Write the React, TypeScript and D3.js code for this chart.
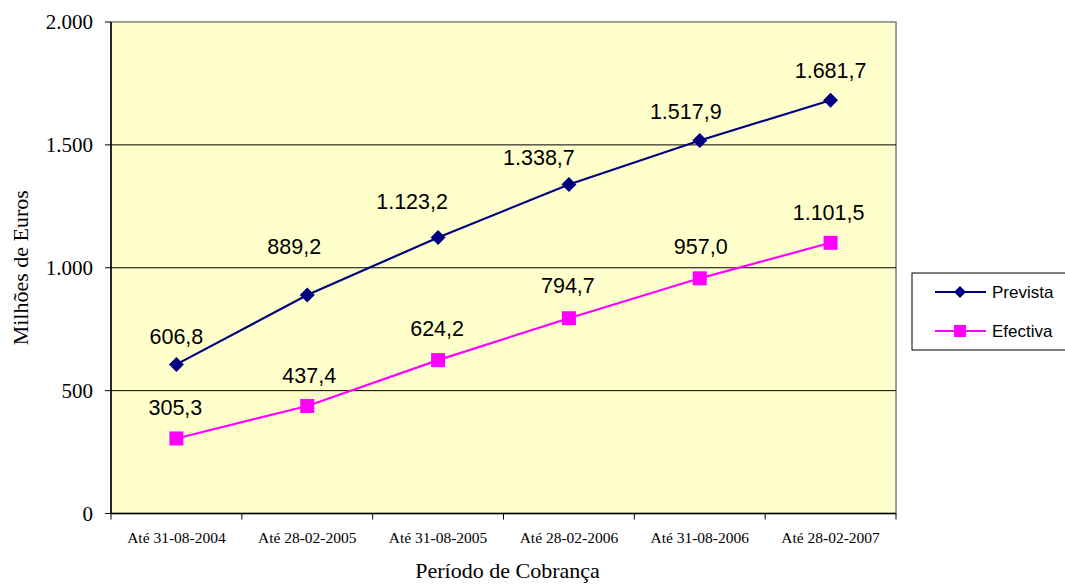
import React from "react";
import * as d3 from "d3";

const categories = ["Até 31-08-2004", "Até 28-02-2005", "Até 31-08-2005", "Até 28-02-2006", "Até 31-08-2006", "Até 28-02-2007"];
const prevista = [606.8, 889.2, 1123.2, 1338.7, 1517.9, 1681.7];
const efectiva = [305.3, 437.4, 624.2, 794.7, 957.0, 1101.5];
const yTicks = [0, 500, 1000, 1500, 2000];
// label placement offsets (dx, dy from marker to label centre)
const previstaLabelOffsets: [number, number][] = [[0, -28], [-13, -49], [-26, -36], [-30, -27], [-14, -29], [0, -30]];
const efectivaLabelOffsets: [number, number][] = [[-1, -31], [2, -31], [-1, -32], [-1, -33], [1, -32], [-2, -30]];

const W = 1065, H = 585;
const L = 111, R = 896, T = 22, B = 513.5;
const SERIF = "'Liberation Serif', 'Times New Roman', serif";
const SANS = "'Liberation Sans', Arial, sans-serif";

const fmtThousands = (v: number) => Math.round(v).toString().replace(/\B(?=(\d{3})+(?!\d))/g, ".");
const fmtLabel = (v: number) => {
  const [i, d] = v.toFixed(1).split(".");
  return i.replace(/\B(?=(\d{3})+(?!\d))/g, ".") + "," + d;
};

export default function App() {
  const x = d3.scaleBand().domain(categories).range([L, R]);
  const y = d3.scaleLinear().domain([0, 2000]).range([B, T]);
  const cx = (c: string) => (x(c) as number) + x.bandwidth() / 2;
  const line = d3.line<number>().x((_, i) => cx(categories[i])).y((d) => y(d));
  const diamond = (px: number, py: number, r = 7.5) => `M${px},${py - r}L${px + r},${py}L${px},${py + r}L${px - r},${py}Z`;
  const bounds = [...categories.map((c) => x(c) as number), R];
  const labelSize = 21.5;
  return (
    <svg width={W} height={H} style={{ position: "absolute", left: 0, top: 0 }}>
      <rect x={L} y={T} width={R - L} height={B - T} fill="#FFFFCC" stroke="#808080" strokeWidth={1.5} />
      {yTicks.filter((t) => t > 0 && t < 2000).map((t) => (
        <line key={t} x1={L} x2={R} y1={y(t)} y2={y(t)} stroke="#000" strokeWidth={1} />
      ))}
      <line x1={L} x2={L} y1={T} y2={B} stroke="#000" strokeWidth={1.5} />
      <line x1={L} x2={R} y1={B} y2={B} stroke="#000" strokeWidth={1.5} />
      {yTicks.map((t) => (
        <g key={t}>
          <line x1={L - 6} x2={L} y1={y(t)} y2={y(t)} stroke="#000" />
          <text x={L - 18} y={y(t)} dy="0.35em" textAnchor="end" fontFamily={SERIF} fontSize={21}>{fmtThousands(t)}</text>
        </g>
      ))}
      {bounds.map((b, i) => (
        <line key={i} x1={b} x2={b} y1={B} y2={B + 6} stroke="#000" />
      ))}
      {categories.map((c) => (
        <text key={c} x={cx(c)} y={B + 29} textAnchor="middle" fontFamily={SERIF} fontSize={15.5}>{c}</text>
      ))}
      <text transform={`translate(28,${(T + B) / 2}) rotate(-90)`} textAnchor="middle" fontFamily={SERIF} fontSize={22}>Milhões de Euros</text>
      <text x={(L + R) / 2 + 4} y={578} textAnchor="middle" fontFamily={SERIF} fontSize={22}>Período de Cobrança</text>

      <path d={line(prevista) as string} fill="none" stroke="#000080" strokeWidth={2.2} />
      <path d={line(efectiva) as string} fill="none" stroke="#FF00FF" strokeWidth={2.2} />
      {prevista.map((v, i) => (
        <g key={i}>
          <path d={diamond(cx(categories[i]), y(v))} fill="#000080" />
          <text x={cx(categories[i]) + previstaLabelOffsets[i][0]} y={y(v) + previstaLabelOffsets[i][1]} dy="0.35em" textAnchor="middle" fontFamily={SANS} fontSize={labelSize}>{fmtLabel(v)}</text>
        </g>
      ))}
      {efectiva.map((v, i) => (
        <g key={i}>
          <rect x={cx(categories[i]) - 7} y={y(v) - 7} width={14} height={14} fill="#FF00FF" />
          <text x={cx(categories[i]) + efectivaLabelOffsets[i][0]} y={y(v) + efectivaLabelOffsets[i][1]} dy="0.35em" textAnchor="middle" fontFamily={SANS} fontSize={labelSize}>{fmtLabel(v)}</text>
        </g>
      ))}

      <rect x={912} y={273} width={160} height={77} fill="#fff" stroke="#000" strokeWidth={1} />
      <line x1={935} x2={986} y1={292} y2={292} stroke="#000080" strokeWidth={2} />
      <path d={diamond(960, 292, 6)} fill="#000080" />
      <text x={992} y={292} dy="0.35em" fontFamily={SANS} fontSize={17}>Prevista</text>
      <line x1={935} x2={986} y1={331} y2={331} stroke="#FF00FF" strokeWidth={2} />
      <rect x={954} y={325} width={12} height={12} fill="#FF00FF" />
      <text x={992} y={331} dy="0.35em" fontFamily={SANS} fontSize={17}>Efectiva</text>
    </svg>
  );
}
